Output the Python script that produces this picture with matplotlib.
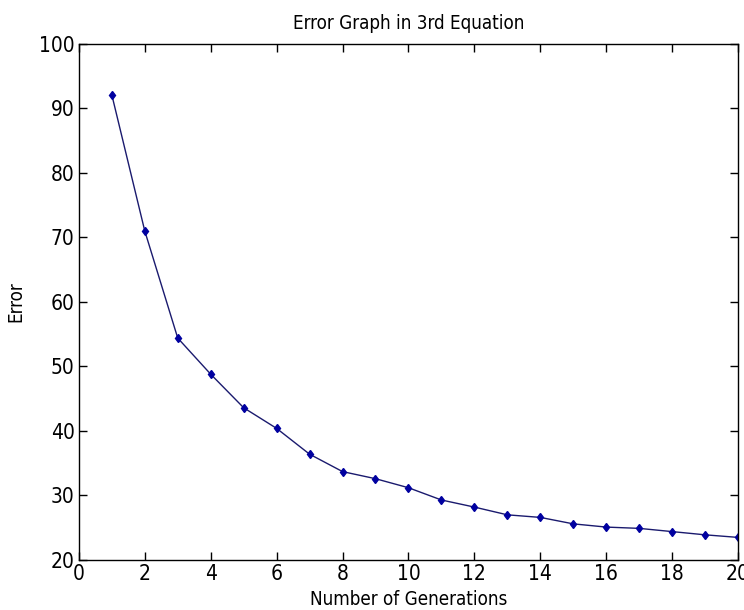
import numpy as np
import matplotlib
matplotlib.use("Agg")
import matplotlib.pyplot as plt

# values
generations = list(range(1, 21))
error = [92.1, 71.0, 54.4, 48.8, 43.6, 40.4, 36.4, 33.7, 32.6, 31.2,
         29.3, 28.2, 27.0, 26.6, 25.6, 25.1, 24.9, 24.4, 23.9, 23.5]

plt.rcParams['font.family'] = ['Liberation Sans Narrow', 'DejaVu Sans']
plt.rcParams['font.stretch'] = 'condensed'

fig = plt.figure(figsize=(7.44, 6.10), dpi=100)
ax = fig.add_axes([0.106, 0.082, 0.886, 0.846])

ax.plot(generations, error, color='#1a1a6e', linewidth=1.0,
        marker='d', markersize=4.5, markerfacecolor='#0000a0', markeredgecolor='#0000a0')

ax.set_xlim(0, 20)
ax.set_ylim(20, 100)
ax.set_xticks(np.arange(0, 21, 2))
ax.set_yticks(np.arange(20, 101, 10))
ax.tick_params(direction='in', top=True, right=True, labelsize=15, length=6, width=1, pad=3)
for s in ax.spines.values():
    s.set_linewidth(1)

ax.set_title("Error Graph in 3rd Equation", fontsize=13.5, pad=11)
ax.set_xlabel("Number of Generations", fontsize=13.5, labelpad=4)
ax.set_ylabel("Error", fontsize=13.5, labelpad=10)

fig.savefig("out.png", dpi=100)
